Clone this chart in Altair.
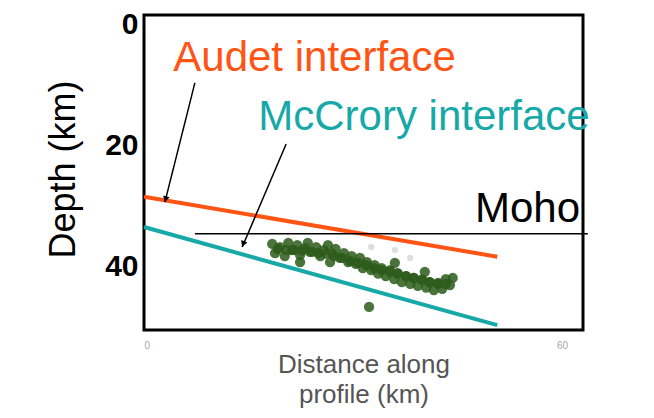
import altair as alt
import pandas as pd

# ---- data ----
iface_name = ["Audet interface", "Audet interface", "McCrory interface", "McCrory interface"]
iface_x = [0.0, 50.7, 0.0, 50.7]
iface_depth = [28.5, 38.4, 33.5, 49.7]

moho_x = [7.3, 63.7]
moho_depth = [34.6, 34.6]

arrow_x = [7.3, 20.4]
arrow_y = [9.7, 19.8]
arrow_x2 = [3.0, 14.1]
arrow_y2 = [29.4, 36.8]
head_x = [3.11, 14.23]
head_y = [28.9, 36.3]
head_angle = [14, 23]

quake_x = [18.4, 18.8, 19.5, 20.2, 20.7, 21.2, 22.0, 22.4, 23.1, 23.5, 24.1, 24.7, 25.3,
           25.8, 26.4, 27.0, 27.5, 28.1, 28.7, 29.3, 29.8, 30.4, 31.0, 31.4, 32.0, 32.6,
           33.1, 33.6, 34.1, 34.7, 35.3, 35.9, 36.4, 37.0, 37.6, 38.2, 38.7, 39.3, 39.9,
           40.5, 41.0, 41.6, 42.2, 42.8, 43.3, 43.9, 44.3, 40.3, 36.0, 26.7, 22.4,
           19.2, 20.4, 21.5, 22.7, 23.8, 25.0, 26.1, 27.3, 28.4, 29.6, 30.7, 31.9, 33.0,
           34.1, 35.3, 36.4, 37.6, 38.7, 39.9, 41.0, 42.2, 43.3, 32.3]
quake_depth = [36.3, 37.8, 36.8, 38.3, 36.1, 37.3, 36.5, 38.1, 37.0, 36.1, 37.6, 36.8, 38.3,
               37.3, 36.5, 37.9, 37.1, 38.6, 37.8, 39.3, 38.3, 39.6, 38.6, 40.3, 39.3, 40.6,
               39.8, 41.2, 40.3, 41.6, 40.6, 42.1, 41.1, 42.6, 41.6, 42.9, 41.9, 43.2, 42.2,
               43.5, 42.6, 43.9, 42.9, 43.7, 42.1, 43.1, 41.9, 40.9, 39.4, 39.3, 39.3,
               37.1, 37.3, 37.3, 37.4, 37.6, 37.8, 37.9, 38.3, 38.6, 39.1, 39.4, 39.8, 40.3,
               40.6, 40.9, 41.2, 41.6, 41.9, 42.2, 42.6, 42.7, 42.9, 46.7]
faint_x = [36.0, 38.2, 32.6]
faint_depth = [37.3, 38.6, 36.8]

label_text = ["Audet interface", "McCrory interface", "Moho"]
label_x = [4.2, 16.4, 47.5]
label_depth = [7.7, 17.5, 32.7]

color_domain = ["Audet interface", "McCrory interface", "Moho"]
color_range = ["#FF5414", "#17A8A8", "#000000"]

x_ticks = [0, 60]
y_ticks = [0, 20, 40]

# ---- tables ----
iface = pd.DataFrame({"name": iface_name, "x": iface_x, "depth": iface_depth})
moho = pd.DataFrame({"x": moho_x, "depth": moho_depth})
arrows = pd.DataFrame({"x": arrow_x, "depth": arrow_y, "x2": arrow_x2, "depth2": arrow_y2})
heads = pd.DataFrame({"x": head_x, "depth": head_y, "angle": head_angle})
quakes = pd.DataFrame({"x": quake_x, "depth": quake_depth})
faint = pd.DataFrame({"x": faint_x, "depth": faint_depth})
labels = pd.DataFrame({"text": label_text, "x": label_x, "depth": label_depth})

x_scale = alt.Scale(domain=[0, 63], nice=False, zero=False)
y_scale = alt.Scale(domain=[-1.5, 50.5], nice=False, zero=False, reverse=True)
x_axis = alt.Axis(values=x_ticks, title=["Distance along", "profile (km)"], grid=False,
                  domain=False, ticks=False, labelPadding=10, titleY=42,
                  titleBaseline="alphabetic", titleLineHeight=30)
y_axis = alt.Axis(values=y_ticks, title="Depth (km)", grid=False, domain=False, ticks=False,
                  labelPadding=6, titleAngle=270, titleX=-70, titleY=154,
                  titleBaseline="alphabetic", titleAlign="center")
color_scale = alt.Scale(domain=color_domain, range=color_range)


def X(f="x"):
    return alt.X(f"{f}:Q", scale=x_scale, axis=x_axis)


def Y(f="depth"):
    return alt.Y(f"{f}:Q", scale=y_scale, axis=y_axis)


lines = alt.Chart(iface).mark_line(strokeWidth=4).encode(
    x=X(), y=Y(), color=alt.Color("name:N", scale=color_scale, legend=None))

moho_line = alt.Chart(moho).mark_line(strokeWidth=1.5, color="black").encode(x=X(), y=Y())

arrow_lines = alt.Chart(arrows).mark_rule(strokeWidth=1.5, color="black").encode(
    x=X(), y=Y(), x2="x2:Q", y2="depth2:Q")

arrow_heads = alt.Chart(heads).mark_point(shape="triangle-down", filled=True, size=45,
                                          color="black", opacity=1).encode(
    x=X(), y=Y(), angle=alt.Angle("angle:Q", scale=None))

faint_pts = alt.Chart(faint).mark_circle(size=40, color="#b5b5b5", opacity=0.45).encode(x=X(), y=Y())

quake_pts = alt.Chart(quakes).mark_circle(size=105, color="#2c5a1a", opacity=0.85).encode(x=X(), y=Y())

texts = alt.Chart(labels).mark_text(align="left", baseline="alphabetic", fontSize=42,
                                    font="Liberation Sans").encode(
    x=X(), y=Y(), text="text:N",
    color=alt.Color("text:N", scale=color_scale, legend=None))

chart = alt.layer(lines, moho_line, arrow_lines, arrow_heads, faint_pts, quake_pts, texts).properties(
    width=439, height=315,
    autosize=alt.AutoSizeParams(type="none"),
    padding={"left": 136, "top": 7, "right": 55, "bottom": 80},
).configure(font="Liberation Sans").configure_view(
    stroke="black", strokeWidth=3
).configure_axisX(
    labelFontSize=10, labelColor="#a8a8a8", titleFontSize=26, titleColor="#555555",
    titleFontWeight="normal", titleFont="Liberation Sans"
).configure_axisY(
    labelFontSize=30, labelFontWeight="bold", labelColor="black", titleFontSize=36,
    titleFontWeight="normal", titleColor="black", titleFont="Liberation Sans"
)

chart.save("out.html", embed_options={"renderer": "svg", "actions": False})
